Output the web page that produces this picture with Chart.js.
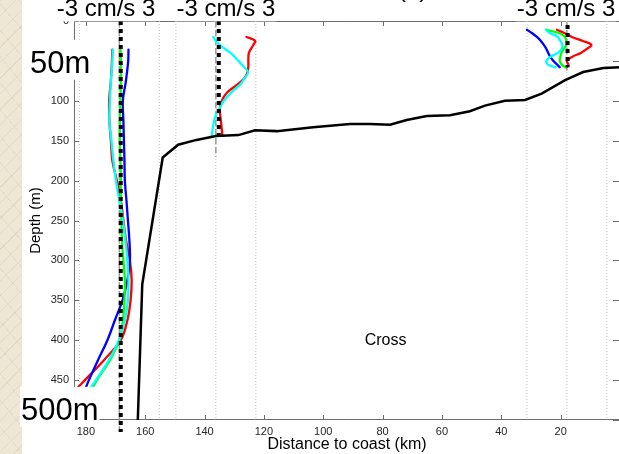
<!DOCTYPE html>
<html>
<head>
<meta charset="utf-8">
<script src="https://cdn.jsdelivr.net/npm/chart.js@4.4.0/dist/chart.umd.min.js"></script>
<style>
  html, body { margin: 0; padding: 0; background: #fff; }
  #wrap { position: relative; width: 619px; height: 454px; overflow: hidden; }
  #paper { position: absolute; left: 0; top: 0; width: 22px; height: 454px;
    background:
      repeating-linear-gradient(135deg, rgba(170,150,115,.16) 0 1px, transparent 1px 11px),
      repeating-linear-gradient(50deg, rgba(170,150,115,.12) 0 1px, transparent 1px 17px),
      #efe7d5; }
  canvas { position: absolute; left: 0; top: 0; }
</style>
</head>
<body>
<div id="wrap">
  <div id="paper"></div>
  <canvas id="section" width="624" height="454"></canvas>
</div>
<script>
// distance of each mooring from the coast (km)
const stationKm = [168.7, 136.2, 17.9];
// 1 cm/s of current is drawn as this many km along the section
const kmPerCms = 4.49;
const xTicks = [180, 160, 140, 120, 100, 80, 60, 40, 20];
const yTicks = [0, 50, 100, 150, 200, 250, 300, 350, 400, 450, 500];

// outer mooring, cross-shelf velocity (cm/s)
const depthS1 = [36, 50, 75, 100, 125, 150, 175, 200, 225, 250, 275, 300, 325, 350, 375, 400, 425, 450, 459];
const redS1   = [-0.53, -0.56, -0.64, -0.77, -0.75, -0.64, -0.53, -0.19, 0.11, 0.3, 0.5, 0.79, 0.92, 0.84, 0.6, 0.1, -1.16, -2.59, -3.11];
const blueS1  = [0.68, 0.66, 0.49, 0.26, 0.3, 0.34, 0.38, 0.41, 0.53, 0.64, 0.75, 0.79, 0.6, 0.23, -0.34, -0.9, -1.61, -2.29, -2.51];
const greenS1 = [0.08, 0.11, 0.11, 0.08, 0.04, 0.04, 0.08, 0.11, 0.11, 0.15, 0.19, 0.3, 0.41, 0.38, 0.26, 0, -0.71, -1.69, -1.99];
const cyanS1  = [-0.49, -0.53, -0.64, -0.71, -0.75, -0.6, -0.45, -0.26, 0, 0.26, 0.45, 0.6, 0.68, 0.64, 0.41, -0.04, -0.79, -1.76, -2.14];

// shelf-break mooring
const depthS2 = [20, 25, 30, 40, 50, 57, 64, 72, 80, 90, 100, 110, 120, 130, 143];
const redS2   = [2.3, 2.96, 2.81, 2.48, 2.44, 2.44, 2.38, 2.13, 1.58, 0.83, 0.45, 0.3, 0.34, 0.41, 0.49];
const cyanS2  = [-0.2, 0, 0.28, 1.1, 1.7, 2.07, 2.42, 2.15, 1.8, 1.13, 0.6, 0.26, -0.04, -0.19, -0.3];

// inner-shelf mooring
const depthS3 = [11, 15, 20, 25, 30, 35, 40, 45, 50, 55, 58];
const redS3   = [-0.75, -0.19, 0.38, 1.2, 1.84, 1.5, 1.05, 0.38, 0, 0.11, -0.04];
const blueS3  = [-3.0, -2.63, -2.25, -1.95, -1.73, -1.54, -1.4, -1.24, -1.01, -0.71, -0.53];
const greenS3 = [-1.54, -0.6, -0.15, -0.04, -0.04, -0.23, -0.41, -0.49, -0.53, -0.38, -0.08];
const cyanS3  = [-1.58, -1.28, -0.68, -0.49, -0.34, -0.38, -0.68, -1.24, -1.54, -1.39, -0.83];

// mean current (cm/s) and depth span of the thick dotted line at each mooring
const meanCms = [0.1, 0.22, 0.05];
const meanTop = [0, 0, 5];
const meanBottom = [515, 148, 58];
// how deep the zero line reaches under each profile
const zeroBottom = [515, 170, 62];

// bottom topography along the section
const bottomKm    = [162.5, 161.0, 154.1, 148.9, 142.7, 136.2, 128.6, 123.0, 115.7, 103.4, 91.0, 84.3, 77.5, 71.9, 65.1, 57.3, 50.6, 45.5, 38.8, 32.0, 26.4, 18.5, 12.4, 5.6, 0];
const bottomDepth = [500, 330, 171, 155, 149, 144, 143, 137, 138, 133, 129, 129, 130, 124, 119, 118, 113, 106, 100, 99, 91, 74, 64, 59, 58];

Chart.defaults.font.family = '"Liberation Sans", Arial, Helvetica, sans-serif';

const at = (s, cms) => stationKm[s] - cms * kmPerCms;
const profile = (s, depths, cms) => depths.map((d, i) => ({x: at(s, cms[i]), y: d}));
const line = (data, color, width, extra) => Object.assign({
  data, borderColor: color, borderWidth: width, pointRadius: 0, showLine: true, fill: false
}, extra || {});

// back to front
const layers = [];
stationKm.forEach((_, s) => {
  [-3, 0, 3].forEach(v => layers.push(
    line([{x: at(s, v), y: 0}, {x: at(s, v), y: 500}], '#c4c4c4', 1, {borderDash: [1, 2]})));
});
stationKm.forEach((_, s) => layers.push(
  line([{x: at(s, 0), y: 0}, {x: at(s, 0), y: zeroBottom[s]}], '#9a9a9a', 1.5, {borderDash: [6, 3], clip: false})));

const prof = {tension: 0.35, borderCapStyle: 'round', borderJoinStyle: 'round'};
layers.push(line(profile(0, depthS1, redS1), '#ff0000', 2.3, prof));
layers.push(line(profile(0, depthS1, blueS1), '#0000ff', 2.3, prof));
layers.push(line(profile(0, depthS1, greenS1), '#00ff00', 2.3, prof));
layers.push(line(profile(0, depthS1, cyanS1), '#00ffff', 2.3, prof));
layers.push(line(profile(1, depthS2, redS2), '#ff0000', 2.3, prof));
layers.push(line(profile(1, depthS2, cyanS2), '#00ffff', 2.3, prof));
layers.push(line(profile(2, depthS3, redS3), '#ff0000', 2.3, prof));
layers.push(line(profile(2, depthS3, blueS3), '#0000ff', 2.3, prof));
layers.push(line(profile(2, depthS3, greenS3), '#00ff00', 2.3, prof));
layers.push(line(profile(2, depthS3, cyanS3), '#00ffff', 2.3, prof));

stationKm.forEach((_, s) => layers.push(
  line([{x: at(s, meanCms[s]), y: meanTop[s]}, {x: at(s, meanCms[s]), y: meanBottom[s]}], '#000', 4,
       {borderDash: [4, 4], clip: false})));

layers.push(line(bottomKm.map((k, i) => ({x: k, y: bottomDepth[i]})), '#000', 2.5));
layers.forEach((d, i) => { d.order = layers.length - i; });

const font = size => `${size}px "Liberation Sans", Arial, Helvetica, sans-serif`;

// text sitting on a white patch
function boxedText(ctx, text, x, base, size, align) {
  ctx.font = font(size);
  const w = ctx.measureText(text).width;
  const left = align === 'center' ? x - w / 2 : x;
  ctx.fillStyle = '#fff';
  ctx.fillRect(left - 1, base - size * 1.07, w + 2, size * 1.29);
  ctx.fillStyle = '#000';
  ctx.textAlign = 'left';
  ctx.textBaseline = 'alphabetic';
  ctx.fillText(text, left, base);
}

const scaleLabelKm = [173.2, 132.8, 18.2];

const frame = {
  id: 'frame',
  beforeDatasetsDraw(chart) {
    const {ctx, chartArea: a, scales: {x, y}} = chart;
    ctx.save();
    ctx.strokeStyle = '#6e6e6e';
    ctx.lineWidth = 1;
    ctx.beginPath();
    ctx.moveTo(a.left + 0.5, a.top + 0.5);
    ctx.lineTo(a.right, a.top + 0.5);
    ctx.moveTo(a.left + 0.5, a.top);
    ctx.lineTo(a.left + 0.5, a.bottom - 0.5);
    ctx.lineTo(a.right, a.bottom - 0.5);
    // inward ticks on all four sides
    x.ticks.forEach(t => {
      const px = Math.round(x.getPixelForValue(t.value)) + 0.5;
      ctx.moveTo(px, a.bottom); ctx.lineTo(px, a.bottom - 5);
      ctx.moveTo(px, a.top); ctx.lineTo(px, a.top + 5);
    });
    y.ticks.forEach(t => {
      const py = Math.round(y.getPixelForValue(t.value)) + 0.5;
      ctx.moveTo(a.left, py); ctx.lineTo(a.left + 5, py);
      ctx.moveTo(a.right - 1, py); ctx.lineTo(a.right - 7, py);
    });
    ctx.stroke();
    ctx.restore();
  },
  afterDraw(chart) {
    const {ctx, scales: {x, y}} = chart;
    ctx.save();
    ctx.font = font(24);
    ctx.fillStyle = '#000';
    ctx.textAlign = 'left';
    ctx.fillText('(b)', 398, -3);
    scaleLabelKm.forEach(k => boxedText(ctx, '-3 cm/s 3', x.getPixelForValue(k), 16, 24, 'center'));
    boxedText(ctx, '50m', 30, y.getPixelForValue(50) + 12, 31, 'left');
    boxedText(ctx, '500m', 21, y.getPixelForValue(500), 31, 'left');
    ctx.font = font(16);
    ctx.fillStyle = '#000';
    ctx.textAlign = 'center';
    ctx.textBaseline = 'middle';
    ctx.fillText('Cross', x.getPixelForValue(79), y.getPixelForValue(400));
    ctx.restore();
  }
};

new Chart(document.getElementById('section'), {
  type: 'scatter',
  data: {datasets: layers},
  options: {
    responsive: false,
    animation: false,
    events: [],
    layout: {padding: {left: 0, right: 4, top: 21, bottom: 0}},
    plugins: {legend: {display: false}, tooltip: {enabled: false}},
    scales: {
      x: {
        type: 'linear', reverse: true, min: 0, max: 184,
        afterBuildTicks: s => { s.ticks = xTicks.map(value => ({value})); },
        afterFit: s => { s.height = 34; },
        grid: {display: false, drawTicks: false},
        border: {display: false},
        ticks: {font: {size: 11}, color: '#262626', padding: 5, maxRotation: 0, autoSkip: false},
        title: {display: true, text: 'Distance to coast (km)', font: {size: 16}, color: '#000', padding: 0}
      },
      y: {
        type: 'linear', reverse: true, min: 0, max: 500,
        afterBuildTicks: s => { s.ticks = yTicks.map(value => ({value})); },
        afterFit: s => { s.width = 74; },
        grid: {display: false, drawTicks: false},
        border: {display: false},
        ticks: {font: {size: 11}, color: '#262626', padding: 5, autoSkip: false},
        title: {display: true, text: 'Depth (m)', font: {size: 15}, color: '#000', padding: {top: 27}}
      }
    }
  },
  plugins: [frame]
});
</script>
</body>
</html>
